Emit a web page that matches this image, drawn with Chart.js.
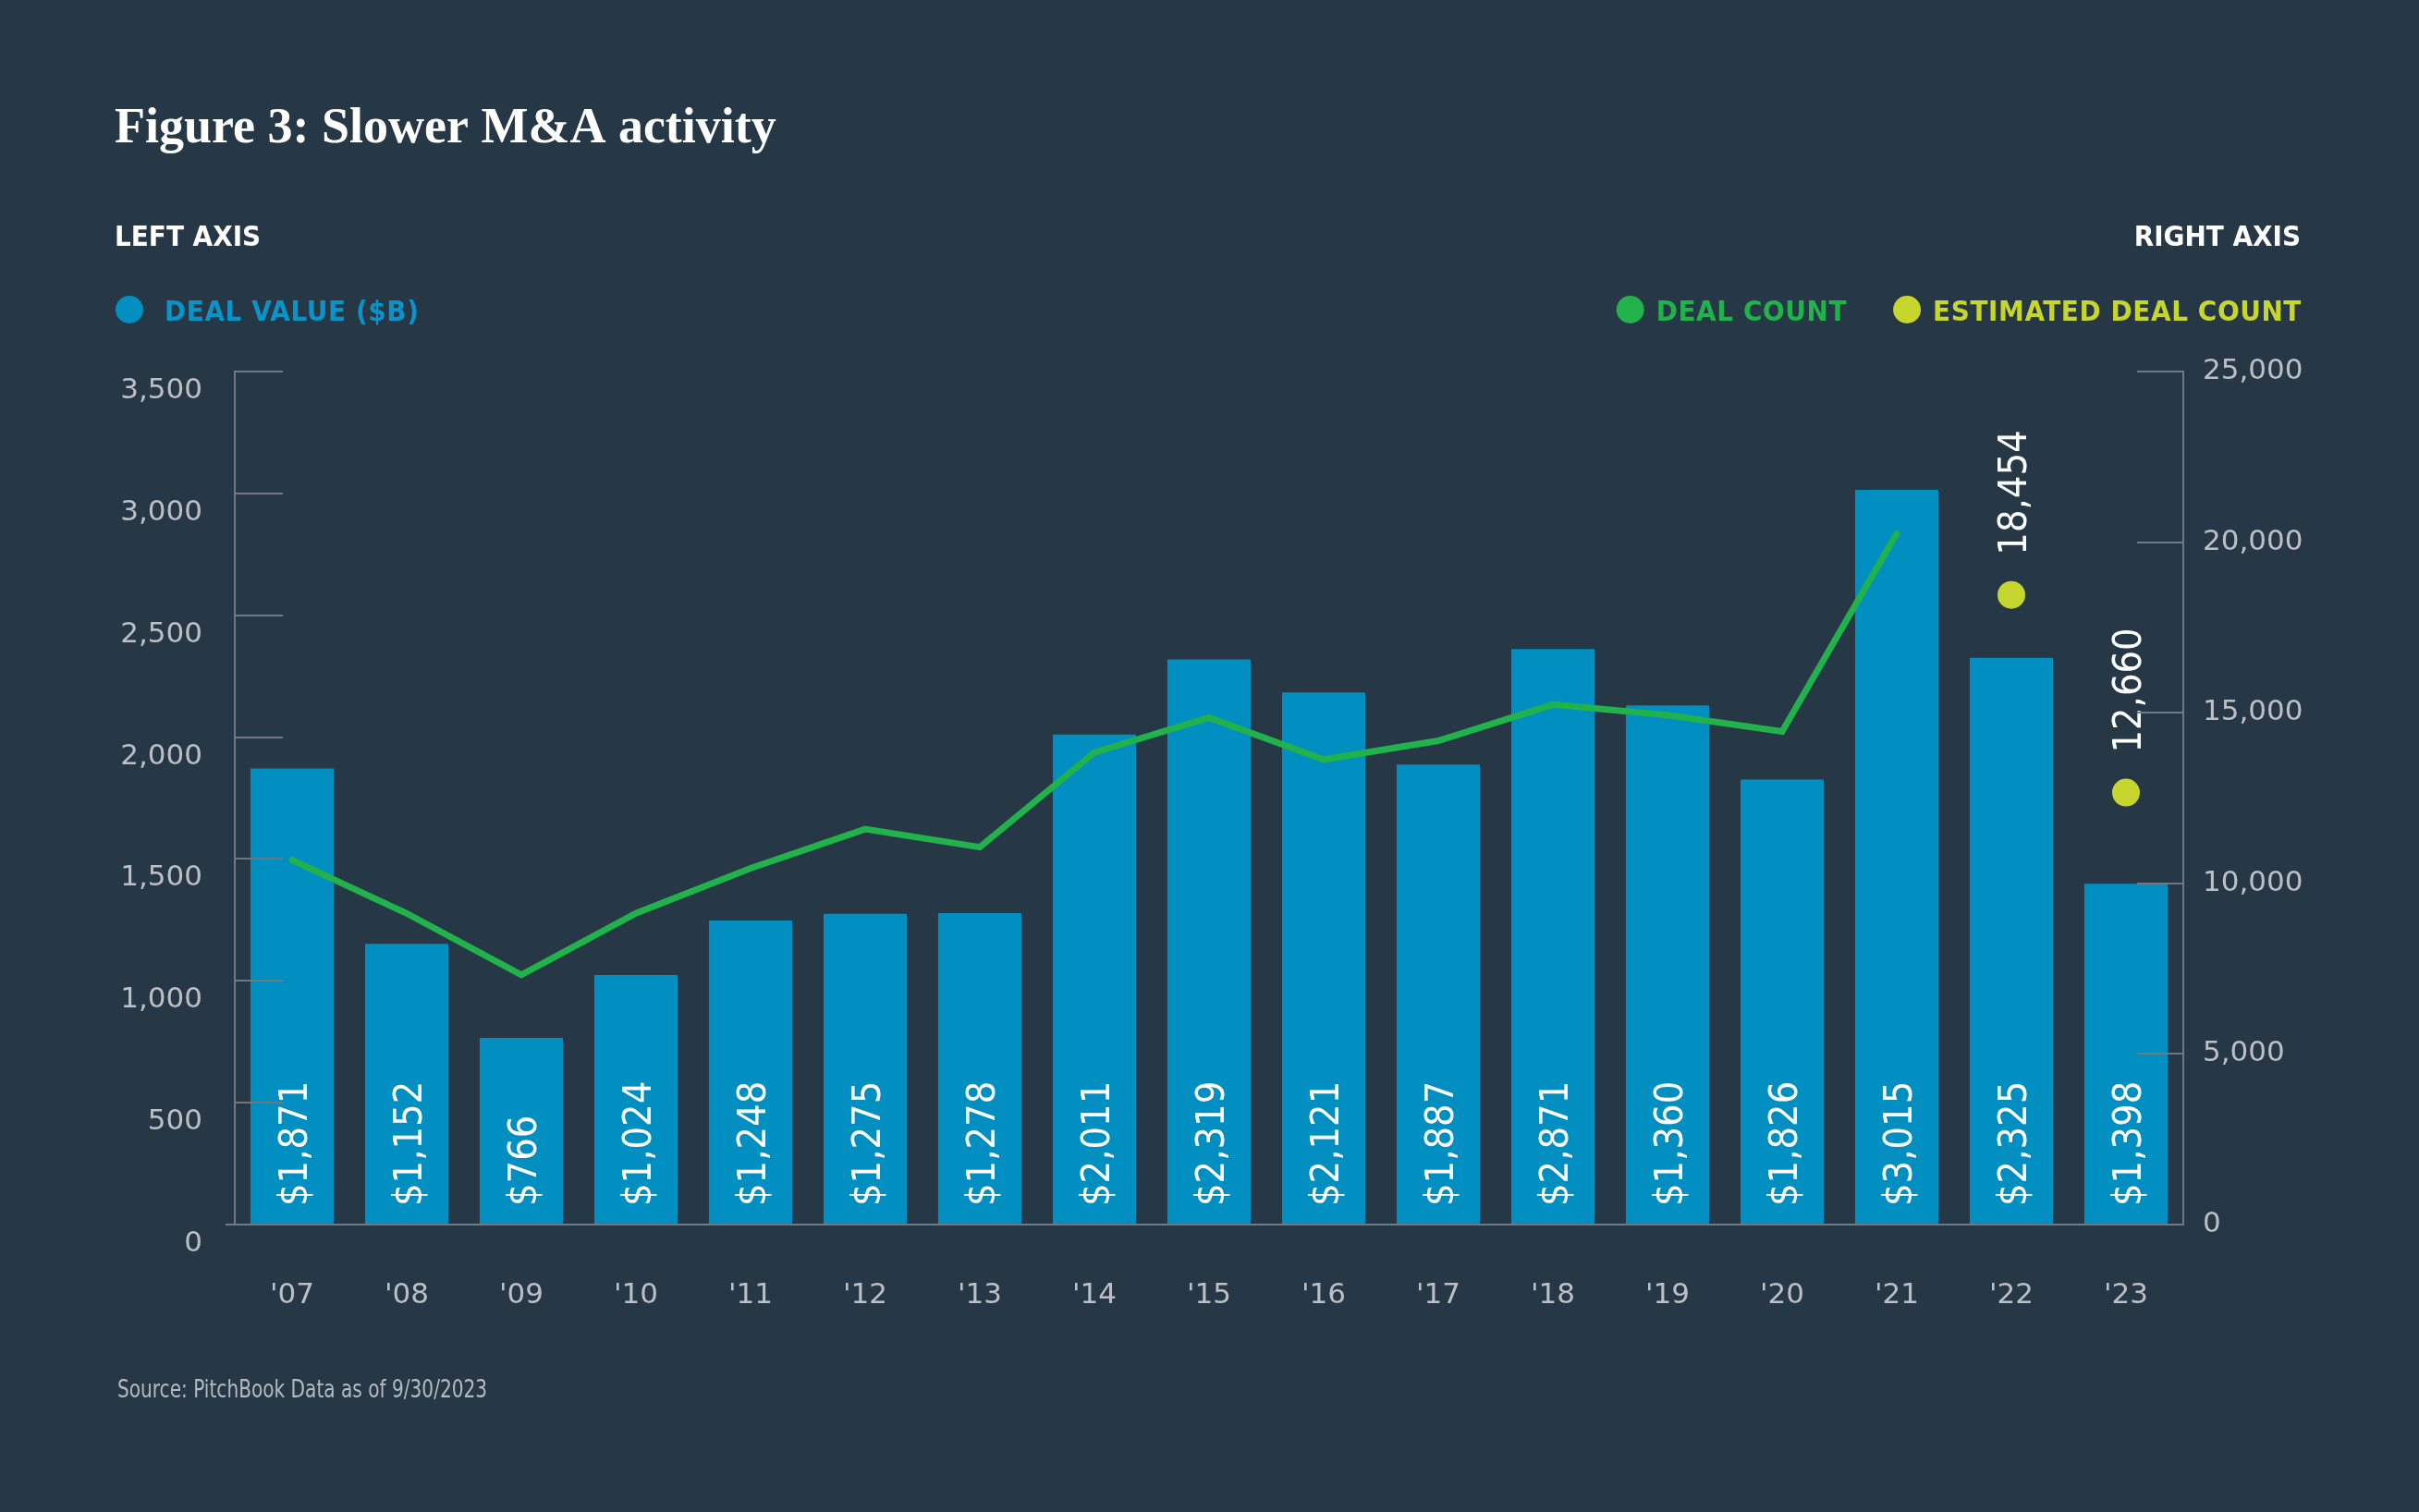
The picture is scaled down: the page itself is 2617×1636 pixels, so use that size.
<!DOCTYPE html>
<html>
<head>
<meta charset="utf-8">
<script src="https://cdn.jsdelivr.net/npm/chart.js@4"></script>
<style>
  html, body { margin: 0; padding: 0; background: #263746; }
  canvas { display: block; }
</style>
</head>
<body>
<canvas id="maChart" width="2617" height="1636"></canvas>
<script>
  const years = ["'07", "'08", "'09", "'10", "'11", "'12", "'13", "'14", "'15", "'16", "'17", "'18", "'19", "'20", "'21", "'22", "'23"];
  // bar heights as drawn
  const dealValue = [1871, 1152, 766, 1024, 1248, 1275, 1278, 2011, 2319, 2183, 1887, 2361, 2130, 1826, 3015, 2325, 1398];
  // labels printed inside the bars
  const dealValueLabels = ['$1,871', '$1,152', '$766', '$1,024', '$1,248', '$1,275', '$1,278', '$2,011', '$2,319', '$2,121', '$1,887', '$2,871', '$1,360', '$1,826', '$3,015', '$2,325', '$1,398'];
  const dealCount = [10680, 9120, 7320, 9120, 10440, 11590, 11060, 13840, 14860, 13630, 14180, 15240, 14930, 14450, 20250, null, null];
  const estimatedCount = [null, null, null, null, null, null, null, null, null, null, null, null, null, null, null, 18454, 12660];

  const axisColor = '#6f7883';
  const tickColor = '#bcc0c4';
  const blue = '#008fc0';
  const green = '#22b24c';
  const lime = '#c6d62e';
  const narrow = '"DejaVu Sans Condensed", "Liberation Sans Narrow", sans-serif';

  const decor = {
    id: 'decor',
    afterDatasetsDraw(chart) {
      const ctx = chart.ctx;
      ctx.save();
      ctx.fillStyle = '#ffffff';
      ctx.font = '43px ' + narrow;
      ctx.textAlign = 'left';
      ctx.textBaseline = 'alphabetic';
      chart.getDatasetMeta(2).data.forEach((bar, i) => {
        ctx.save();
        ctx.translate(bar.x, bar.base - 20);
        ctx.rotate(-Math.PI / 2);
        ctx.fillText(dealValueLabels[i], 0, 15.5);
        ctx.restore();
      });
      chart.getDatasetMeta(0).data.forEach((pt, i) => {
        if (estimatedCount[i] == null) return;
        ctx.save();
        ctx.translate(pt.x, pt.y - 43);
        ctx.rotate(-Math.PI / 2);
        ctx.fillText(estimatedCount[i].toLocaleString('en-US'), 0, 15.5);
        ctx.restore();
      });
      ctx.restore();
    },
    afterDraw(chart) {
      const {ctx, chartArea: a, scales} = chart;
      ctx.save();
      ctx.strokeStyle = axisColor;
      ctx.lineWidth = 2;
      const line = (x1, y1, x2, y2) => {
        ctx.beginPath(); ctx.moveTo(x1, y1); ctx.lineTo(x2, y2); ctx.stroke();
      };
      scales.y.ticks.forEach(t => {
        const py = Math.round(scales.y.getPixelForValue(t.value));
        line(a.left, py, a.left + 52, py);
      });
      scales.y2.ticks.forEach(t => {
        const py = Math.round(scales.y2.getPixelForValue(t.value));
        line(a.right - 50, py, a.right, py);
      });
      line(a.left - 10, a.bottom, a.right, a.bottom);

      // title and headings
      ctx.textBaseline = 'alphabetic';
      ctx.fillStyle = '#ffffff';
      ctx.textAlign = 'left';
      ctx.font = 'bold 54px "Liberation Serif", serif';
      ctx.fillText('Figure 3: Slower M&A activity', 124, 154);
      ctx.font = 'bold 31px ' + narrow;
      ctx.fillText('LEFT AXIS', 124, 266);
      ctx.textAlign = 'right';
      ctx.fillText('RIGHT AXIS', 2489, 266);

      // legend
      const dot = (cx, color) => {
        ctx.fillStyle = color;
        ctx.beginPath(); ctx.arc(cx, 335, 15, 0, Math.PI * 2); ctx.fill();
      };
      ctx.textAlign = 'left';
      ctx.letterSpacing = '0.6px';
      dot(140, blue);
      ctx.fillStyle = '#0a93c8';
      ctx.fillText('DEAL VALUE ($B)', 178, 347);

      const estText = 'ESTIMATED DEAL COUNT';
      const estLeft = 2490 - ctx.measureText(estText).width;
      dot(estLeft - 28, lime);
      ctx.fillStyle = lime;
      ctx.fillText(estText, estLeft, 347);
      const cntText = 'DEAL COUNT';
      const cntLeft = estLeft - 28 - 15 - 50 - ctx.measureText(cntText).width;
      dot(cntLeft - 28, green);
      ctx.fillStyle = green;
      ctx.fillText(cntText, cntLeft, 347);
      ctx.letterSpacing = '0px';

      // source, squeezed to the narrow face of the original
      ctx.fillStyle = '#b5bac0';
      ctx.font = '26px ' + narrow;
      ctx.translate(127, 1512);
      ctx.scale(0.86, 1);
      ctx.fillText('Source: PitchBook Data as of 9/30/2023', 0, 0);
      ctx.restore();
    }
  };

  const tickFont = { family: 'DejaVu Sans', size: 31 };

  new Chart(document.getElementById('maChart'), {
    type: 'bar',
    data: {
      labels: years,
      datasets: [{
        type: 'line',
        label: 'Estimated deal count',
        data: estimatedCount,
        yAxisID: 'y2',
        showLine: false,
        pointRadius: 15,
        pointHoverRadius: 15,
        pointBackgroundColor: lime,
        pointBorderWidth: 0,
        order: 0
      }, {
        type: 'line',
        label: 'Deal count',
        data: dealCount,
        yAxisID: 'y2',
        borderColor: green,
        borderWidth: 7,
        borderCapStyle: 'round',
        pointRadius: 0,
        spanGaps: false,
        order: 1
      }, {
        label: 'Deal value ($B)',
        data: dealValue,
        yAxisID: 'y',
        backgroundColor: blue,
        categoryPercentage: 1,
        barPercentage: 0.726,
        order: 2
      }]
    },
    options: {
      responsive: false,
      devicePixelRatio: 1,
      animation: false,
      layout: { padding: { top: 402, left: 0, right: 0, bottom: 0 } },
      plugins: { legend: { display: false }, tooltip: { enabled: false } },
      scales: {
        x: {
          offset: true,
          grid: { display: false, drawTicks: false },
          border: { display: false },
          ticks: { color: tickColor, font: tickFont, padding: 58, maxRotation: 0 },
          afterFit(scale) { scale.height = 311; }
        },
        y: {
          position: 'left',
          min: 0,
          max: 3500,
          grid: { display: false, drawTicks: false },
          border: { display: true, color: axisColor, width: 2 },
          ticks: {
            stepSize: 500,
            color: tickColor,
            font: tickFont,
            padding: 35,
            labelOffset: 21,
            callback: v => v.toLocaleString('en-US')
          },
          afterFit(scale) { scale.width = 254; }
        },
        y2: {
          position: 'right',
          min: 0,
          max: 25000,
          grid: { display: false, drawTicks: false },
          border: { display: true, color: axisColor, width: 2 },
          ticks: {
            stepSize: 5000,
            color: tickColor,
            font: tickFont,
            padding: 21,
            callback: v => v.toLocaleString('en-US')
          },
          afterFit(scale) { scale.width = 255; }
        }
      }
    },
    plugins: [decor]
  });
</script>
</body>
</html>
